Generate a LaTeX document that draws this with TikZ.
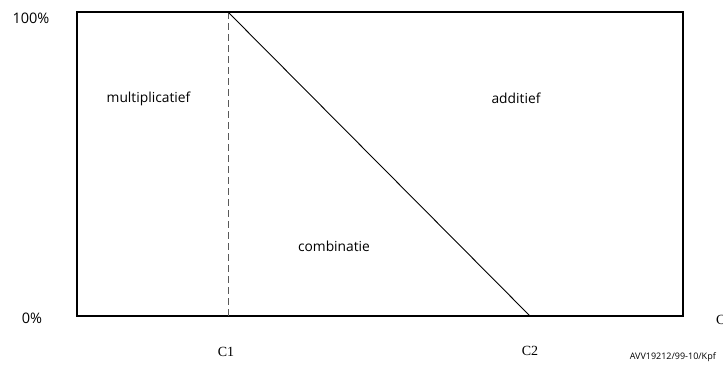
\documentclass[tikz,border=0pt]{standalone}
\usepackage{fontspec}
\setmainfont{Open Sans}
\newfontfamily\cfont{Liberation Serif}
\usetikzlibrary{positioning}
\tikzset{
    zone/.style={font=\fontsize{13.8}{16}\selectfont, inner sep=0pt},
    pct/.style={font=\fontsize{14.5}{17}\selectfont, inner sep=0pt},
    cval/.style={font=\cfont\fontsize{14}{16}\selectfont, inner sep=0pt},
    frame/.style={line width=1.2pt},
}
\begin{document}
\begin{tikzpicture}[x=1pt, y=-1pt]
    \useasboundingbox (0,0) rectangle (723,367);
    % plot area
    \coordinate (bl) at (77,316);
    \coordinate (tr) at (683,12);
    \coordinate (c1top) at (228,12);
    \coordinate (c1bot) at (228,316);
    \coordinate (c2) at (530,316);
    \draw[frame] (bl) rectangle (tr);
    \draw[gray!70!black, line width=1pt, dash pattern=on 7pt off 4pt] (c1top) -- (c1bot);
    \draw[line width=0.9pt] (c1top) -- (c2);
    % axis labels
    \node[pct] (top) at (31,18) {100\%};
    \node[pct] (bot) at (32,318) {0\%};
    \node[cval] (lc1) at (226,352) {C1};
    \node[cval] (lc2) at (530,351) {C2};
    \node[cval, anchor=west] (lc) at (716,320) {C};
    % regions
    \node[zone] (mult) at (148.5,99) {multiplicatief};
    \node[zone] (add) at (516,98) {additief};
    \node[zone] (comb) at (334,246) {combinatie};
    \node[font=\fontsize{9}{11}\selectfont, inner sep=0pt, anchor=east] (ref) at (716,357) {AVV19212/99-10/Kpf};
\end{tikzpicture}
\end{document}
